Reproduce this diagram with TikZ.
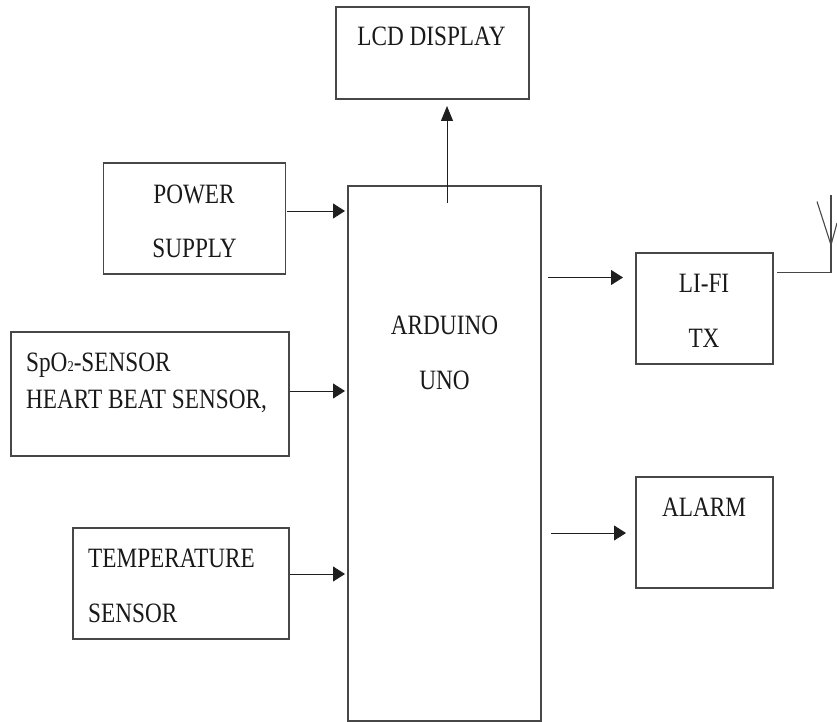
\documentclass[tikz,border=0pt]{standalone}
\usepackage{fontspec}
\setmainfont[FakeStretch=0.83]{Liberation Serif}
\usetikzlibrary{arrows.meta}
\tikzset{
  block/.style={draw=black!72,line width=1.2pt,minimum width=0pt,minimum height=0pt,inner sep=0pt},
  lbl/.style={inner sep=0pt,font=\fontsize{28}{32}\selectfont,text=black!90,anchor=base},
  lbll/.style={lbl,anchor=base west},
  conn/.style={draw=black!88,line width=1pt,-{Triangle[length=12pt,width=15pt]}},
  connup/.style={draw=black!88,line width=1pt,-{Triangle[length=15pt,width=12pt]}},
  wire/.style={draw=black!72,line width=1.1pt}
}
\begin{document}
\begin{tikzpicture}[x=1pt,y=-1pt]
\useasboundingbox (0,0) rectangle (837,722);
\node[block,minimum width=193pt,minimum height=92pt] (lcd) at (432.5,53) {};
\node[block,minimum width=182pt,minimum height=111pt] (power) at (194.5,218.5) {};
\node[block,minimum width=278pt,minimum height=124pt] (spo) at (150,394) {};
\node[block,minimum width=216pt,minimum height=111pt] (temp) at (181,583.5) {};
\node[block,minimum width=193pt,minimum height=535pt] (ard) at (444.5,453.5) {};
\node[block,minimum width=137pt,minimum height=111pt] (lifi) at (704.5,308.5) {};
\node[block,minimum width=137pt,minimum height=111pt] (alarm) at (704.5,532.5) {};

\node[lbl] (t1) at (431.5,45.5) {LCD DISPLAY};
\node[lbl] (t2) at (194,203) {POWER};
\node[lbl] (t3) at (194.5,257) {SUPPLY};
\node[lbll] (t4) at (26,371) {SpO{\fontsize{15}{15}\selectfont 2}-SENSOR};
\node[lbll] (t5) at (26,408) {HEART BEAT SENSOR,};
\node[lbll] (t6) at (88,567) {TEMPERATURE};
\node[lbll] (t7) at (88,622) {SENSOR};
\node[lbl] (t8) at (444.5,334) {ARDUINO};
\node[lbl] (t9) at (444.5,389) {UNO};
\node[lbl] (t10) at (704,292) {LI-FI};
\node[lbl] (t11) at (704,347) {TX};
\node[lbl] (t12) at (704,516) {ALARM};

\coordinate (a1) at (447,203);
\coordinate (a2) at (447,106);
\draw[connup] (a1) -- (a2);
\coordinate (b1) at (287,211);
\coordinate (b2) at (345,211);
\draw[conn] (b1) -- (b2);
\coordinate (c2) at (345,391);
\draw[conn] (spo.east |- c2) -- (c2);
\coordinate (d2) at (345,574);
\draw[conn] (temp.east |- d2) -- (d2);
\coordinate (e1) at (548,277.5);
\coordinate (e2) at (623,277.5);
\draw[conn] (e1) -- (e2);
\coordinate (f1) at (551,533);
\coordinate (f2) at (626,533);
\draw[conn] (f1) -- (f2);
\coordinate (g1) at (777,272.5);
\coordinate (g2) at (831,272.5);
\coordinate (g3) at (831,195);
\coordinate (g4) at (831,245);
\coordinate (g5) at (817,201.5);
\coordinate (g6) at (837,223);
\draw[wire] (g1) -- (g2) -- (g3);
\draw[wire] (g5) -- (g4) -- (g6);
\end{tikzpicture}
\end{document}
